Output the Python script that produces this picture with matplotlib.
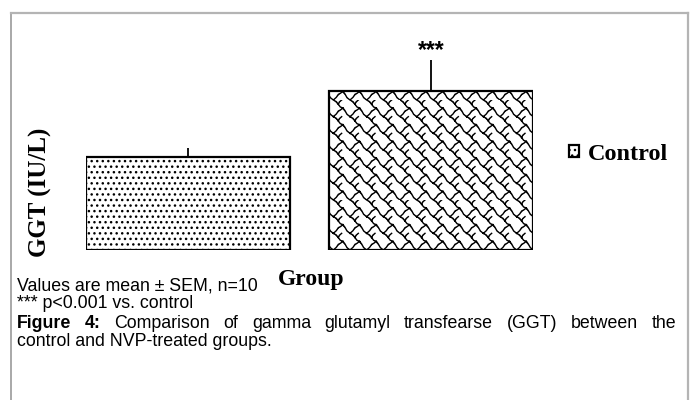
import warnings
import numpy as np
import matplotlib
matplotlib.use("Agg")
import matplotlib.pyplot as plt
import matplotlib.hatch as mhatch
from matplotlib.path import Path
from matplotlib.lines import Line2D

warnings.filterwarnings("ignore")

# ---- data ----
groups = ["Control", "NVP-treated"]
means = [18.6, 31.8]
sems = [1.8, 6.2]
sig_labels = ["", "***"]
legend_labels = ["Control"]
ylabel = "GGT (IU/L)"
xlabel = "Group"
caption_lines = ["Values are mean \u00b1 SEM, n=10", "*** p<0.001 vs. control"]
fig_caption_bold = "Figure 4:"
fig_caption_rest = "Comparison of gamma glutamyl transfearse (GGT) between the"
fig_caption_line2 = "control and NVP-treated groups."


# ---- custom "scale" hatch ----
class ScaleHatch(mhatch.HatchPatternBase):
    motif = [
        [(0.0, 1.0), (0.18, 0.90), (0.30, 0.74), (0.42, 0.58), (0.58, 0.52),
         (0.70, 0.36), (0.82, 0.14), (1.0, 0.0)],
        [(0.50, 1.0), (0.36, 0.88), (0.30, 0.74)],
        [(0.58, 0.52), (0.42, 0.40), (0.30, 0.34), (0.18, 0.16), (0.0, 0.0)],
    ]

    def __init__(self, hatch, density):
        self.n = int(hatch.count('w') * density)
        per = sum(len(m) for m in self.motif)
        self.num_vertices = self.n * self.n * per if self.n else 0

    def set_vertices_and_codes(self, vertices, codes):
        n = self.n
        k = 0
        for i in range(n):
            for j in range(n):
                for m in self.motif:
                    for idx, (x, y) in enumerate(m):
                        vertices[k] = ((i + x) / n, (j + y) / n)
                        codes[k] = Path.MOVETO if idx == 0 else Path.LINETO
                        k += 1


mhatch._hatch_types.append(ScaleHatch)

W, H = 694, 400
fig = plt.figure(figsize=(W / 100, H / 100), dpi=100)
plt.rcParams['hatch.linewidth'] = 1.0


def fx(px):
    return px / W


def fy(py):
    return 1 - py / H


ax = fig.add_axes([fx(86), fy(250), (533 - 86) / W, 250 / H])
x = np.arange(len(groups))
bars = ax.bar(x, means, width=0.836, color="white", edgecolor="black",
              linewidth=1.6, zorder=2)
bars[0].set_hatch("...")
bars[1].set_hatch("w")
ax.errorbar(x, means, yerr=[np.zeros(len(sems)), sems], fmt="none",
            ecolor="black", elinewidth=1.3, capsize=0, zorder=1)
for xi, m, s, lab in zip(x, means, sems, sig_labels):
    if lab:
        ax.annotate(lab, (xi, m + s), xytext=(0, -1.5), textcoords="offset points",
                    ha="center", va="bottom", fontsize=16.5, fontweight="bold",
                    family="Liberation Sans")
ax.set_xlim(-0.418, 1.418)
ax.set_ylim(0, 50)
ax.axis("off")

# legend
leg = fig.legend([bars[0]], legend_labels, loc="center left",
                 bbox_to_anchor=(fx(569), fy(154)), frameon=False,
                 handlelength=0.42, handleheight=0.42, handletextpad=0.35,
                 borderpad=0.0, borderaxespad=0.0,
                 prop={"family": "Liberation Serif", "weight": "bold", "size": 17.5})

# axis labels
fig.text(fx(40), fy(192), ylabel, rotation=90, ha="center", va="center",
         family="Liberation Serif", fontweight="bold", fontsize=18)
fig.text(fx(311), fy(279), xlabel, ha="center", va="center",
         family="Liberation Serif", fontweight="bold", fontsize=17)

# captions
cap_font = dict(family="Liberation Sans", fontsize=12.8)
fig.text(fx(17), fy(286), caption_lines[0], ha="left", va="center", **cap_font)
fig.text(fx(17), fy(304), caption_lines[1], ha="left", va="center", **cap_font)

# justified line
renderer = fig.canvas.get_renderer()
words = [(w, "bold") for w in fig_caption_bold.split()] + \
        [(w, "normal") for w in fig_caption_rest.split()]
texts = []
for w, wt in words:
    t = fig.text(0, fy(323), w, ha="left", va="center", fontweight=wt, **cap_font)
    texts.append(t)
widths = [t.get_window_extent(renderer).width for t in texts]
left, right = 17, 676
gap = (right - left - sum(widths)) / (len(words) - 1)
cur = left
for t, wd in zip(texts, widths):
    t.set_x(fx(cur))
    cur += wd + gap
fig.text(fx(17), fy(341), fig_caption_line2, ha="left", va="center", **cap_font)

# border
fig.add_artist(Line2D([fx(11), fx(11)], [fy(13), 0], transform=fig.transFigure,
                      color="#9a9a9a", lw=1.2))
fig.add_artist(Line2D([fx(11), fx(688)], [fy(13), fy(13)], transform=fig.transFigure,
                      color="#b4b4b4", lw=1.6))
fig.add_artist(Line2D([fx(688), fx(688)], [fy(13), 0], transform=fig.transFigure,
                      color="#b4b4b4", lw=1.6))

fig.savefig("out.png", dpi=100)
